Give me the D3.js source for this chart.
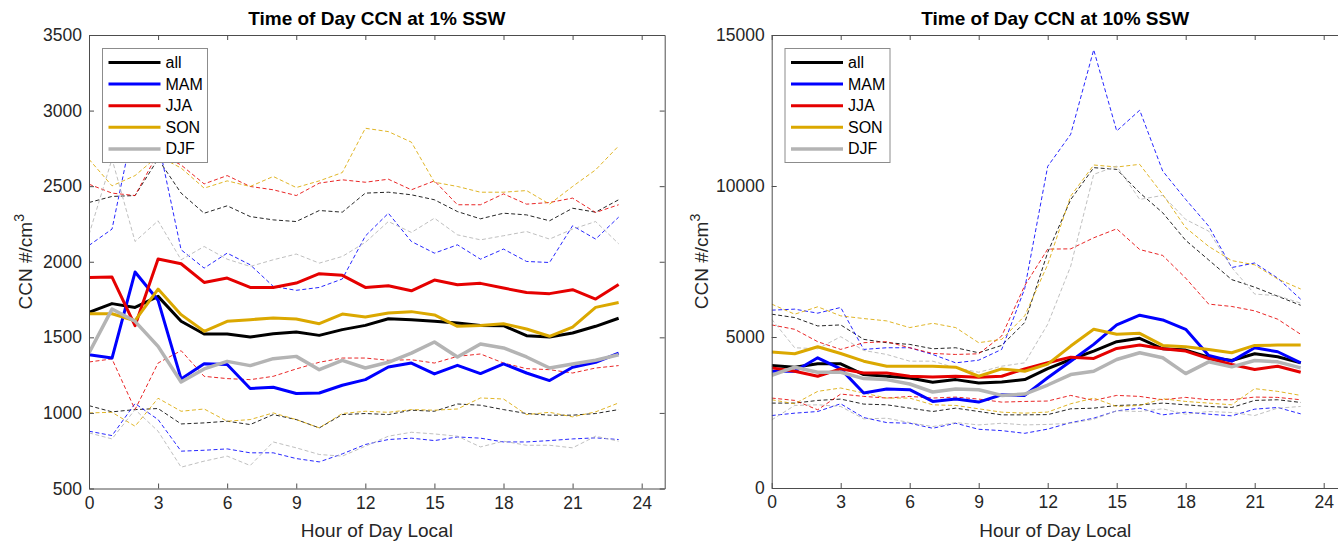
<!DOCTYPE html>
<html>
<head>
<meta charset="utf-8">
<script src="https://cdn.jsdelivr.net/npm/d3@7"></script>
<style>
  html, body { margin: 0; padding: 0; background: #fff; }
  svg { display: block; font-family: "Liberation Sans", Arial, sans-serif; }
</style>
</head>
<body>
<svg id="chart" width="1338" height="543"></svg>
<script>
// ---------- data ----------
const hours = d3.range(0, 24);
const seriesNames = ["all", "MAM", "JJA", "SON", "DJF"];
const seriesColors = ["#000000", "#0000ff", "#e50000", "#dba800", "#b4b4b4"];
const xTicks = [0, 3, 6, 9, 12, 15, 18, 21, 24];
const yTicksLeft = [500, 1000, 1500, 2000, 2500, 3000, 3500];
const yTicksRight = [0, 5000, 10000, 15000];
const titleLeft = "Time of Day CCN at 1% SSW";
const titleRight = "Time of Day CCN at 10% SSW";
const xLabel = "Hour of Day Local";

// Left panel (1% SSW): means
const L_all = [1665,1723,1698,1771,1606,1522,1522,1502,1524,1535,1513,1551,1579,1623,1617,1606,1595,1579,1577,1511,1502,1529,1573,1626];
const L_MAM = [1385,1363,1932,1745,1225,1326,1320,1161,1170,1128,1132,1183,1220,1304,1330,1258,1315,1260,1324,1264,1214,1302,1335,1396];
const L_JJA = [1896,1899,1577,2018,1987,1863,1892,1830,1830,1859,1921,1910,1830,1841,1808,1879,1848,1857,1826,1797,1789,1815,1753,1850];
const L_SON = [1656,1656,1610,1819,1650,1540,1606,1617,1628,1621,1590,1654,1634,1661,1670,1648,1573,1579,1590,1555,1507,1568,1698,1731];
const L_DJF = [1396,1687,1606,1440,1205,1291,1341,1313,1359,1374,1286,1348,1297,1335,1396,1469,1370,1456,1430,1370,1297,1324,1348,1385];
// Left panel: upper bounds
const L_all_hi = [2392,2432,2438,2680,2454,2321,2370,2299,2277,2266,2339,2328,2454,2460,2443,2410,2332,2284,2321,2310,2271,2354,2328,2410];
const L_MAM_hi = [2108,2216,2950,2800,2079,1958,2057,1980,1837,1811,1830,1886,2170,2321,2134,2057,2112,2017,2084,2002,1995,2238,2150,2295];
const L_JJA_hi = [2513,2454,2438,2720,2640,2515,2570,2498,2476,2438,2520,2542,2526,2546,2476,2535,2377,2377,2449,2381,2392,2421,2326,2377];
const L_SON_hi = [2678,2502,2570,2700,2620,2487,2535,2498,2564,2491,2535,2590,2883,2861,2791,2526,2498,2460,2460,2471,2381,2498,2608,2766];
const L_DJF_hi = [2180,2680,2134,2271,2013,2101,2017,1969,2013,2051,1991,2035,2128,2266,2194,2288,2178,2145,2172,2200,2150,2216,2266,2119];
// Left panel: lower bounds
const L_all_lo = [1048,1007,1022,1029,927,934,945,923,989,956,901,989,996,989,1018,1011,1059,1051,1022,996,985,985,996,1022];
const L_MAM_lo = [879,850,1062,956,747,753,762,736,736,698,676,729,791,824,833,817,841,833,808,808,817,828,835,824];
const L_JJA_lo = [1337,1357,1022,1330,1412,1242,1227,1220,1242,1291,1335,1363,1363,1348,1352,1330,1374,1390,1330,1293,1286,1264,1297,1313];
const L_SON_lo = [1000,1004,912,1097,1011,1026,945,956,1000,956,901,996,1011,1004,1022,1018,1026,1099,1092,989,1004,974,1007,1066];
const L_DJF_lo = [868,828,1022,879,641,681,714,652,808,769,725,714,780,846,872,861,846,775,813,786,786,769,846,813];

// Right panel (10% SSW): means
const R_all = [4055,4000,4111,4111,3755,3700,3644,3500,3589,3478,3511,3589,3950,4255,4533,4844,4955,4611,4566,4333,4222,4444,4344,4144];
const R_MAM = [3866,3866,4311,3944,3144,3278,3255,2866,2944,2844,3089,3066,3650,4200,4755,5400,5722,5566,5255,4389,4200,4644,4511,4144];
const R_JJA = [3978,3866,3700,3944,3811,3811,3700,3678,3700,3666,3700,3944,4150,4333,4289,4622,4733,4611,4533,4289,4089,3922,4033,3833];
const R_SON = [4500,4444,4678,4455,4200,4033,4033,4033,4000,3700,3944,3866,4100,4700,5255,5089,5122,4722,4678,4589,4478,4722,4733,4733];
const R_DJF = [3733,4000,3833,3833,3622,3589,3444,3178,3278,3255,3066,3111,3410,3755,3866,4255,4478,4311,3789,4178,4011,4222,4178,3978];
// Right panel: upper bounds
const R_all_hi = [5755,5644,5366,5400,4922,4811,4755,4611,4644,4478,4722,5478,7800,9550,10607,10551,9777,9114,8200,7550,6900,6650,6350,6050];
const R_MAM_hi = [5889,5922,5789,5978,4589,4644,4644,4422,4144,4233,4589,6600,10650,11713,14511,11823,12509,10496,9556,8671,7300,7450,6950,6250];
const R_JJA_hi = [5400,5255,4844,4589,4811,4844,4644,4455,4422,4444,5033,6700,7910,7919,8284,8582,7897,7700,6950,6089,6011,5866,5589,5089];
const R_SON_hi = [6089,5755,6000,5700,5611,5533,5311,5455,5311,4811,4922,5700,7400,9666,10695,10629,10717,9722,8620,8000,7530,7390,6920,6590];
const R_DJF_hi = [5589,4644,4611,5011,4555,4422,4200,4200,3978,3833,4033,4144,5422,7344,10385,10662,9556,9688,8892,8505,7300,6422,6366,6122];
// Right panel: lower bounds
const R_all_lo = [2811,2811,2900,2944,2778,2755,2644,2533,2644,2533,2422,2422,2430,2622,2644,2733,2755,2811,2755,2700,2666,2900,2922,2833];
const R_MAM_lo = [2400,2478,2533,2789,2333,2166,2144,1978,2144,1944,1900,1811,1950,2166,2311,2555,2644,2422,2511,2444,2389,2611,2666,2455];
const R_JJA_lo = [2978,2900,2589,3111,3033,2978,3033,2978,3011,2944,2844,2866,2880,3066,2900,3066,3033,2922,3000,2922,2922,3011,3000,2922];
const R_SON_lo = [2922,2789,3200,3311,3144,2978,2978,2755,2733,2622,2511,2478,2515,2789,2978,2700,2733,2955,2866,2811,2755,3289,3200,3066];
const R_DJF_lo = [2255,2733,2755,2700,2289,2311,2166,2033,2166,2089,2144,2089,2105,2144,2278,2555,2533,2622,2444,2533,2500,2400,2644,2700];

// ---------- drawing ----------
const svg = d3.select("#chart");
const axisColor = "#4d4d4d";
const textColor = "#262626";
const tickFont = 17.5;
const labelFont = 19;

const panels = [
  {
    title: titleLeft, yDomain: [500, 3500], yTicks: yTicksLeft,
    xRange: [89, 664.7], yRange: [488.5, 35],
    means: [L_all, L_MAM, L_JJA, L_SON, L_DJF],
    his: [L_all_hi, L_MAM_hi, L_JJA_hi, L_SON_hi, L_DJF_hi],
    los: [L_all_lo, L_MAM_lo, L_JJA_lo, L_SON_lo, L_DJF_lo],
    yLabelX: 31.5, legendX: 102.5
  },
  {
    title: titleRight, yDomain: [0, 15000], yTicks: yTicksRight,
    xRange: [771.7, 1346.7], yRange: [488, 35],
    means: [R_all, R_MAM, R_JJA, R_SON, R_DJF],
    his: [R_all_hi, R_MAM_hi, R_JJA_hi, R_SON_hi, R_DJF_hi],
    los: [R_all_lo, R_MAM_lo, R_JJA_lo, R_SON_lo, R_DJF_lo],
    yLabelX: 708, legendX: 785
  }
];

panels.forEach((p, pi) => {
  const x = d3.scaleLinear().domain([0, 25]).range(p.xRange);
  const y = d3.scaleLinear().domain(p.yDomain).range(p.yRange);
  const g = svg.append("g");
  const [x0, x1] = p.xRange;
  const [yb, yt] = p.yRange;

  const clipId = "clip" + pi;
  svg.append("defs").append("clipPath").attr("id", clipId)
    .append("rect").attr("x", x0).attr("y", yt).attr("width", x1 - x0).attr("height", yb - yt);

  const line = d3.line().x((d, i) => x(hours[i])).y(d => y(d));
  const plot = g.append("g").attr("clip-path", `url(#${clipId})`);

  // dashed bounds
  p.his.forEach((arr, k) => {
    plot.append("path").datum(arr).attr("d", line)
      .attr("fill", "none").attr("stroke", seriesColors[k])
      .attr("stroke-width", 1).attr("stroke-dasharray", "4,2.5").attr("opacity", 0.85);
  });
  p.los.forEach((arr, k) => {
    plot.append("path").datum(arr).attr("d", line)
      .attr("fill", "none").attr("stroke", seriesColors[k])
      .attr("stroke-width", 1).attr("stroke-dasharray", "4,2.5").attr("opacity", 0.85);
  });
  // solid means
  p.means.forEach((arr, k) => {
    plot.append("path").datum(arr).attr("d", line)
      .attr("fill", "none").attr("stroke", seriesColors[k])
      .attr("stroke-width", k === 4 ? 3.5 : 3).attr("stroke-linejoin", "round");
  });

  // axes (bottom/left with labels, top/right ticks only), ticks inward
  const xAxisB = d3.axisBottom(x).tickValues(xTicks).tickSizeInner(-5).tickSizeOuter(0).tickPadding(8);
  const xAxisT = d3.axisTop(x).tickValues(xTicks).tickSizeInner(-5).tickSizeOuter(0).tickFormat("");
  const yAxisL = d3.axisLeft(y).tickValues(p.yTicks).tickSizeInner(-5).tickSizeOuter(0).tickPadding(7).tickFormat(d3.format("d"));
  const yAxisR = d3.axisRight(y).tickValues(p.yTicks).tickSizeInner(-5).tickSizeOuter(0).tickFormat("");

  const styleAxis = sel => {
    sel.selectAll("path").attr("stroke", axisColor).attr("stroke-width", 1);
    sel.selectAll("line").attr("stroke", axisColor).attr("stroke-width", 1);
    sel.selectAll("text").attr("fill", textColor).attr("font-size", tickFont)
      .attr("font-family", "'Liberation Sans', Arial, sans-serif");
  };
  g.append("g").attr("transform", `translate(0,${yb})`).call(xAxisB).call(styleAxis);
  g.append("g").attr("transform", `translate(0,${yt})`).call(xAxisT).call(styleAxis);
  g.append("g").attr("transform", `translate(${x0},0)`).call(yAxisL).call(styleAxis);
  g.append("g").attr("transform", `translate(${x1},0)`).call(yAxisR).call(styleAxis);

  const cx = (x0 + x1) / 2 - (pi === 1 ? 4 : 0);
  // title
  g.append("text").attr("x", cx).attr("y", 25).attr("text-anchor", "middle")
    .attr("font-size", 19).attr("font-weight", "bold").attr("fill", "#000").text(p.title);
  // x label
  g.append("text").attr("x", cx).attr("y", 537).attr("text-anchor", "middle")
    .attr("font-size", labelFont).attr("fill", textColor).text(xLabel);
  // y label
  const yl = g.append("text").attr("transform", `translate(${p.yLabelX},${(yb + yt) / 2}) rotate(-90)`)
    .attr("text-anchor", "middle").attr("font-size", labelFont).attr("fill", textColor);
  yl.append("tspan").text("CCN #/cm");
  yl.append("tspan").attr("dy", -8).attr("font-size", 14).text("3");

  // legend
  const lg = g.append("g").attr("transform", `translate(${p.legendX},48.5)`);
  lg.append("rect").attr("width", 105).attr("height", 114).attr("fill", "#fff")
    .attr("stroke", "#8c8c8c").attr("stroke-width", 1);
  seriesNames.forEach((name, k) => {
    const yy = 14 + k * 21.6;
    lg.append("line").attr("x1", 6).attr("x2", 58).attr("y1", yy).attr("y2", yy)
      .attr("stroke", seriesColors[k]).attr("stroke-width", k === 4 ? 3.5 : 3);
    lg.append("text").attr("x", 63).attr("y", yy + 5.5).attr("font-size", 16)
      .attr("fill", "#000").text(name);
  });
});
</script>
</body>
</html>
